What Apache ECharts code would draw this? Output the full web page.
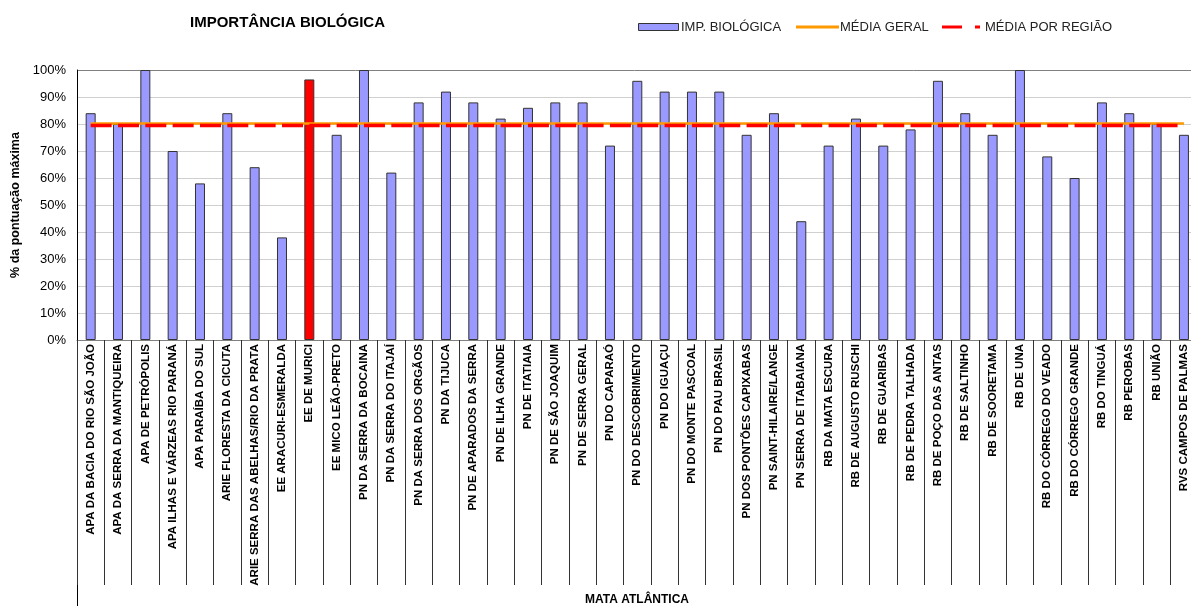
<!DOCTYPE html>
<html>
<head>
<meta charset="utf-8">
<title>Importância Biológica</title>
<script src="https://cdn.jsdelivr.net/npm/echarts@6/dist/echarts.min.js"></script>
<style>
  html, body { margin: 0; padding: 0; background: #fff; }
  #chart { width: 1191px; height: 606px; }
</style>
</head>
<body>
<div id="chart"></div>
<script>
// Unidades de conservação da Mata Atlântica
const categories = [
  'APA DA BACIA DO RIO SÃO JOÃO', 'APA DA SERRA DA MANTIQUEIRA', 'APA DE PETRÓPOLIS',
  'APA ILHAS E VÁRZEAS RIO PARANÁ', 'APA PARAÍBA DO SUL', 'ARIE FLORESTA DA CICUTA',
  'ARIE SERRA DAS ABELHAS/RIO DA PRATA', 'EE ARACURI-ESMERALDA', 'EE DE MURICI',
  'EE MICO LEÃO-PRETO', 'PN DA SERRA DA BOCAINA', 'PN DA SERRA DO ITAJAÍ',
  'PN DA SERRA DOS ORGÃOS', 'PN DA TIJUCA', 'PN DE APARADOS DA SERRA',
  'PN DE ILHA GRANDE', 'PN DE ITATIAIA', 'PN DE SÃO JOAQUIM', 'PN DE SERRA GERAL',
  'PN DO CAPARAÓ', 'PN DO DESCOBRIMENTO', 'PN DO IGUAÇU', 'PN DO MONTE PASCOAL',
  'PN DO PAU BRASIL', 'PN DOS PONTÕES CAPIXABAS', 'PN SAINT-HILAIRE/LANGE',
  'PN SERRA DE ITABAIANA', 'RB DA MATA ESCURA', 'RB DE AUGUSTO RUSCHI',
  'RB DE GUARIBAS', 'RB DE PEDRA TALHADA', 'RB DE POÇO DAS ANTAS', 'RB DE SALTINHO',
  'RB DE SOORETAMA', 'RB DE UNA', 'RB DO CÓRREGO DO VEADO', 'RB DO CÓRREGO GRANDE',
  'RB DO TINGUÁ', 'RB PEROBAS', 'RB UNIÃO', 'RVS CAMPOS DE PALMAS'
];

// % da pontuação máxima por unidade
const impBiologica = [
  84, 80, 100, 70, 58, 84, 64, 38, 96.5, 76,
  100, 62, 88, 92, 88, 82, 86, 88, 88, 72,
  96, 92, 92, 92, 76, 84, 44, 72, 82, 72,
  78, 96, 84, 76, 100, 68, 60, 88, 84, 80,
  76
];

// Unidade em destaque
const destaque = 'EE DE MURICI';

// Médias de referência
const MEDIA_GERAL = 80.2;
const MEDIA_REGIAO = 79.4;

const yTicks = [0, 10, 20, 30, 40, 50, 60, 70, 80, 90, 100];

const seriesNames = ['IMP. BIOLÓGICA', 'MÉDIA GERAL', 'MÉDIA POR REGIÃO'];

const FONT = '"Liberation Sans", Arial, Helvetica, sans-serif';

const COR_BARRA = '#9999FF';
const COR_DESTAQUE = '#FF0000';
const COR_GERAL = '#FF9900';
const COR_REGIAO = '#FF0000';

const chart = echarts.init(document.getElementById('chart'), null, { renderer: 'canvas' });

const barData = impBiologica.map((v, i) => categories[i] === destaque
  ? { value: v, itemStyle: { color: COR_DESTAQUE } }
  : v);

// Legenda desenhada à mão (caixa + linhas de exemplo + rótulos)
const legendY = 27;
const legendText = (x, text) => ({
  type: 'text', x: x, y: legendY, silent: true,
  style: { text: text, fontFamily: FONT, fontSize: 13, fill: '#222',
           textAlign: 'left', textVerticalAlign: 'middle' }
});
const legendGraphics = [
  { type: 'rect', silent: true,
    shape: { x: 638.5, y: 23.5, width: 40, height: 7 },
    style: { fill: COR_BARRA, stroke: '#333', lineWidth: 1 } },
  legendText(681, seriesNames[0]),
  { type: 'line', silent: true,
    shape: { x1: 796, y1: legendY, x2: 839, y2: legendY },
    style: { stroke: COR_GERAL, lineWidth: 3 } },
  legendText(840, seriesNames[1]),
  { type: 'line', silent: true,
    shape: { x1: 942, y1: legendY, x2: 962, y2: legendY },
    style: { stroke: COR_REGIAO, lineWidth: 3 } },
  { type: 'line', silent: true,
    shape: { x1: 975, y1: legendY, x2: 980, y2: legendY },
    style: { stroke: COR_REGIAO, lineWidth: 3 } },
  legendText(985, seriesNames[2])
];

const option = {
  animation: false,
  backgroundColor: '#ffffff',
  textStyle: { fontFamily: FONT },
  title: {
    text: 'IMPORTÂNCIA BIOLÓGICA',
    left: 190,
    top: 15,
    padding: 0,
    textStyle: { fontFamily: FONT, fontSize: 15, fontWeight: 'bold', color: '#000' }
  },
  grid: {
    left: 77,
    top: 70,
    width: 1120.6,
    height: 270,
    containLabel: false,
    outerBoundsMode: 'none'
  },
  xAxis: {
    type: 'category',
    data: categories,
    boundaryGap: true,
    axisLine: { lineStyle: { color: '#808080', width: 1 } },
    axisTick: { show: true, length: 245, lineStyle: { color: '#333', width: 1 } },
    axisLabel: {
      rotate: 90,
      interval: 0,
      margin: 4,
      fontFamily: FONT,
      fontSize: 11.5,
      fontWeight: 'bold',
      color: '#000'
    },
    splitLine: { show: false }
  },
  yAxis: {
    type: 'value',
    min: yTicks[0],
    max: yTicks[yTicks.length - 1],
    interval: 10,
    name: '% da pontuação máxima',
    nameLocation: 'middle',
    nameGap: 53,
    nameRotate: 90,
    nameTextStyle: { fontFamily: FONT, fontSize: 12.5, fontWeight: 'bold', color: '#000' },
    axisLine: { show: true, lineStyle: { color: '#000', width: 1 } },
    axisTick: { show: false },
    axisLabel: {
      formatter: '{value}%',
      margin: 11,
      fontFamily: FONT,
      fontSize: 13,
      color: '#000'
    },
    splitLine: {
      show: true,
      lineStyle: {
        color: ['#808080', '#d0d0d0', '#d0d0d0', '#d0d0d0', '#d0d0d0', '#d0d0d0',
                '#d0d0d0', '#d0d0d0', '#d0d0d0', '#d0d0d0', '#808080'],
        width: 1
      }
    }
  },
  series: [
    {
      name: seriesNames[0],
      type: 'bar',
      data: barData,
      barWidth: 10,
      itemStyle: { color: COR_BARRA, borderColor: '#333', borderWidth: 1 },
      z: 2
    },
    {
      name: seriesNames[1],
      type: 'line',
      data: categories.map(() => MEDIA_GERAL),
      symbol: 'none',
      lineStyle: { color: COR_GERAL, width: 2.5 },
      itemStyle: { color: COR_GERAL },
      z: 3
    },
    {
      name: seriesNames[2],
      type: 'line',
      data: categories.map(() => MEDIA_REGIAO),
      symbol: 'none',
      lineStyle: { color: COR_REGIAO, width: 3.5, type: [21, 6.33] },
      itemStyle: { color: COR_REGIAO },
      z: 4
    }
  ],
  graphic: [
    {
      type: 'line',
      shape: { x1: 77.5, y1: 340, x2: 77.5, y2: 606 },
      style: { stroke: '#000', lineWidth: 1 },
      silent: true
    },
    {
      type: 'text',
      x: 637,
      y: 599.5,
      style: {
        text: 'MATA ATLÂNTICA',
        fontFamily: FONT,
        fontSize: 12,
        fontWeight: 'bold',
        fill: '#000',
        textAlign: 'center',
        textVerticalAlign: 'middle'
      },
      silent: true
    }
  ].concat(legendGraphics)
};

chart.setOption(option);
</script>
</body>
</html>
